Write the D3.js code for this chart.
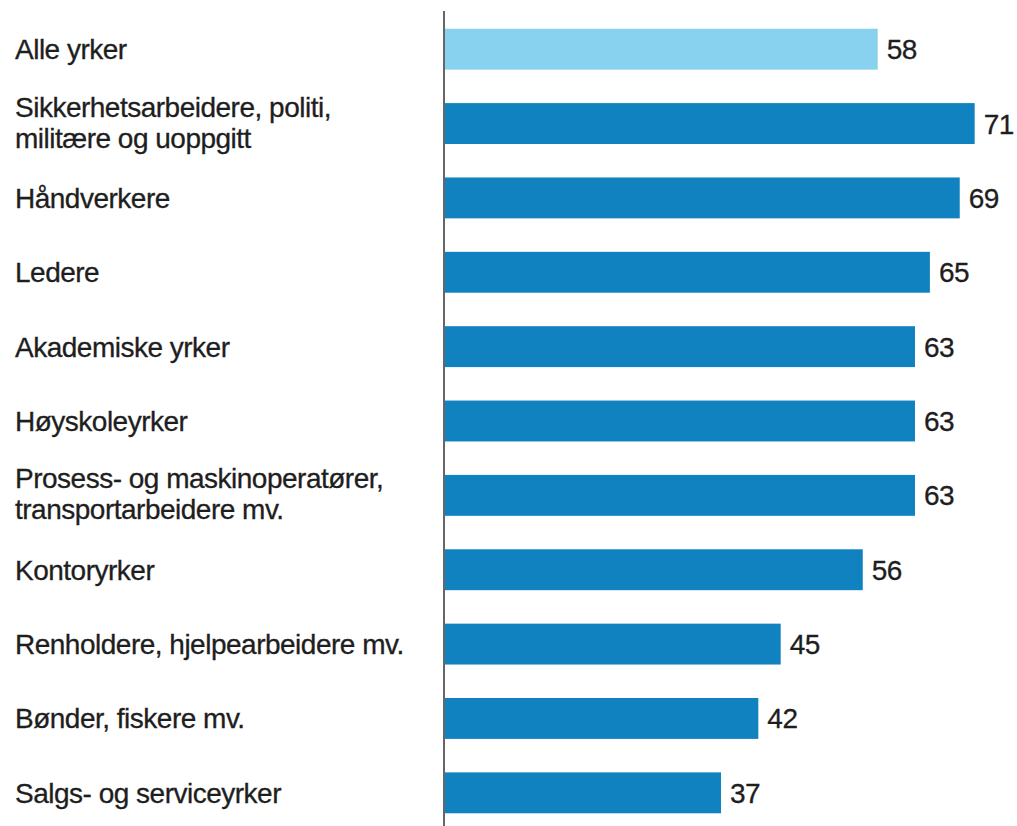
<!DOCTYPE html>
<html>
<head>
<meta charset="utf-8">
<script src="https://cdn.jsdelivr.net/npm/d3@7"></script>
<style>
  body { margin: 0; background: #fff; }
  svg { display: block; }
  text { font-family: "Liberation Sans", Arial, sans-serif; fill: #1e1e1e; stroke: #1e1e1e; stroke-width: 0.3px; letter-spacing: -0.5px; }
</style>
</head>
<body>
<svg id="chart" width="1017" height="826"></svg>
<script>
// Occupation groups (label lines) and their values
const categories = [
  ["Alle yrker"],
  ["Sikkerhetsarbeidere, politi,", "militære og uoppgitt"],
  ["Håndverkere"],
  ["Ledere"],
  ["Akademiske yrker"],
  ["Høyskoleyrker"],
  ["Prosess- og maskinoperatører,", "transportarbeidere mv."],
  ["Kontoryrker"],
  ["Renholdere, hjelpearbeidere mv."],
  ["Bønder, fiskere mv."],
  ["Salgs- og serviceyrker"]
];
const values = [58, 71, 69, 65, 63, 63, 63, 56, 45, 42, 37];
const highlight = [true, false, false, false, false, false, false, false, false, false, false];

const svg = d3.select("#chart");
const x0 = 445;
const fontSize = 28;

const x = d3.scaleLinear().domain([0, 76]).range([x0, x0 + 76 * 7.46]);
const y = d3.scaleBand()
  .domain(d3.range(categories.length))
  .range([12, 830])
  .paddingInner(0.45)
  .paddingOuter(0.225);

const rows = svg.selectAll("g.row")
  .data(values.map((v, i) => ({ v, i, lines: categories[i], hl: highlight[i] })))
  .join("g")
  .attr("class", "row");

rows.append("rect")
  .attr("x", x(0))
  .attr("y", d => y(d.i))
  .attr("width", d => x(d.v) - x(0))
  .attr("height", y.bandwidth())
  .attr("fill", d => d.hl ? "#88d1ef" : "#1182c0");

rows.append("text")
  .attr("x", d => x(d.v) + 9)
  .attr("y", d => y(d.i) + y.bandwidth() / 2 + 10)
  .attr("font-size", fontSize)
  .text(d => d.v);

const lineH = 31;
rows.append("text")
  .attr("font-size", fontSize)
  .each(function (d) {
    const n = d.lines.length;
    const base = y(d.i) + y.bandwidth() / 2 + 10 - (n - 1) * (lineH / 2 + 1.5);
    d3.select(this).selectAll("tspan")
      .data(d.lines)
      .join("tspan")
      .attr("x", 15)
      .attr("y", (l, k) => base + k * lineH)
      .text(l => l);
  });

// vertical baseline
svg.append("line")
  .attr("x1", x0 - 1).attr("x2", x0 - 1)
  .attr("y1", 11).attr("y2", 826)
  .attr("stroke", "#333")
  .attr("stroke-width", 1.5);
</script>
</body>
</html>
